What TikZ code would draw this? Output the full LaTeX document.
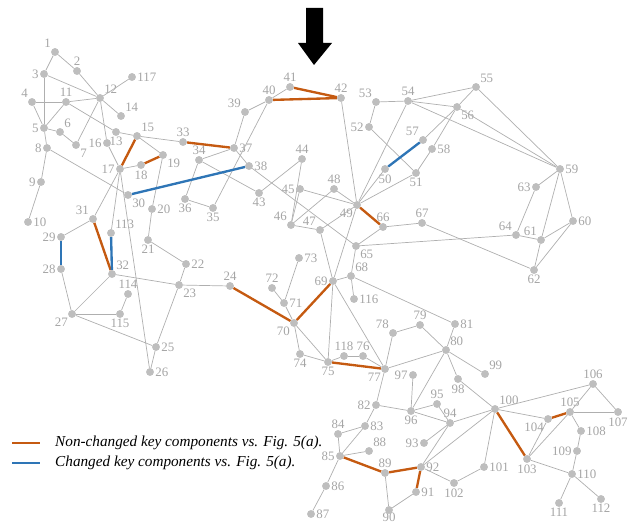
\documentclass[tikz,border=0pt]{standalone}
\usepackage{fontspec}
\setmainfont{Liberation Serif}
\definecolor{dotgray}{RGB}{190,190,190}
\definecolor{linegray}{RGB}{175,175,175}
\definecolor{txtgray}{RGB}{165,165,165}
\definecolor{keyorange}{RGB}{197,90,17}
\definecolor{keyblue}{RGB}{46,117,182}
\tikzset{%
  vtx/.style={circle, fill=dotgray, inner sep=0pt, minimum size=6.5pt},
  lbl/.style={text=txtgray, font=\fontsize{11}{11}\selectfont, inner sep=1pt, label distance=0pt},
  edge/.style={draw=linegray, line width=0.6pt},
  keep/.style={draw=keyorange, line width=2pt},
  swap/.style={draw=keyblue, line width=2pt},
  keytext/.style={anchor=west, font=\itshape\fontsize{13}{13}\selectfont, inner sep=0pt}
}
\begin{document}
\begin{tikzpicture}[x=0.3mm, y=-0.3mm]
  \useasboundingbox (0,0) rectangle (634,523);
  % vertices
  \foreach \n/\x/\y/\p in {
    1/55/52/above left, 2/77/71/above, 3/44/74/left, 117/132/77/right,
    12/100/98/above right, 4/32/102/above left, 11/66/102/above,
    14/121/116/above right, 5/44/128/left, 6/60/132/above right,
    13/116/132/below, 15/137/136/above right, 16/107/143/left,
    7/76/145/below right, 8/47/148/left, 19/163/155/below right,
    18/141/165/below, 17/120/169/left, 9/41/182/left, 10/28/222/right,
    30/128/195/below right, 20/152/209/right, 31/93/219/above left,
    29/61/237/left, 113/111/233/above right, 21/148/240/below,
    28/61/269/left, 32/112/274/above right, 114/128/294/above,
    27/72/314/below left, 115/120/314/below, 25/156/347/right,
    26/150/372/right, 41/290/87/above, 40/269/100/above,
    39/245/112/above left, 33/183/142/above, 37/234/148/right,
    34/199/160/above, 38/249/166/right, 44/302/159/above,
    36/185/199/below, 35/213/208/below, 43/259/193/below,
    45/300/189/left, 46/291/225/above left, 47/320/230/above left,
    22/186/264/right, 23/179/285/below right, 24/230/286/above,
    73/299/258/right, 72/272/288/above, 71/284/303/right,
    70/294/323/below left, 74/300/354/below, 69/333/281/left,
    42/341/98/above, 53/376/102/above left, 54/408/101/above,
    55/476/87/above right, 56/457/107/below right, 52/369/127/left,
    57/423/140/above left, 58/432/149/right, 50/385/169/below,
    51/416/173/below, 48/334/189/above, 49/357/205/below left,
    66/383/227/above, 67/422/223/above, 65/356/246/below right,
    68/351/276/above right, 116/354/299/right, 59/560/169/right,
    63/536/187/left, 60/573/221/right, 64/516/235/above left,
    61/541/240/above left, 62/534/270/below, 78/393/333/above left,
    79/420/325/above, 81/455/324/right, 80/446/350/above right,
    118/344/356/above, 76/363/356/above, 75/328/362/below,
    77/385/369/below left, 97/413/375/left, 99/485/374/above right,
    98/458/379/below, 95/437/404/above, 82/376/405/left,
    96/411/411/below, 94/450/423/above, 84/338/434/above,
    83/365/426/right, 93/424/443/left, 88/369/451/above right,
    85/340/456/left, 92/421/467/right, 89/385/473/above,
    102/454/483/below, 86/326/486/right, 91/416/492/right,
    87/311/514/right, 106/593/384/above,
    100/495/409/above right, 105/570/412/above, 107/618/412/below,
    104/548/419/below left, 108/581/431/right, 109/577/451/left,
    103/527/459/below, 101/484/467/right, 110/572/474/right,
    111/559/503/below, 112/601/499/below}
    \node[vtx, label={[lbl]\p:\n}] (n\n) at (\x,\y) {};
  \node[vtx, label={[lbl, label distance=-2pt]below:90}] (n90) at (389,510) {};
  % plain links
  \foreach \a/\b in {1/3, 1/2, 2/12, 3/12, 3/5, 4/11, 4/5, 11/12, 5/11,
    12/117, 12/14, 12/7, 12/16, 16/17, 5/6, 6/7, 5/8, 8/9, 9/10, 8/30,
    11/13, 13/15, 15/33, 15/19, 17/18, 17/31, 17/113, 17/26, 19/20,
    20/21, 21/22, 22/23, 23/24, 23/25, 32/23, 25/26, 25/27, 27/28,
    29/31, 27/32, 27/115, 114/115, 37/34, 34/36, 36/35, 35/40, 39/40,
    39/37, 40/41, 34/43, 37/38, 38/65, 44/43, 44/46, 45/46, 45/49,
    46/48, 46/47, 47/49, 48/49, 47/69, 42/49, 53/54, 52/53, 52/51,
    54/55, 54/56, 54/59, 55/56, 56/57, 56/58, 58/51, 55/59, 56/59,
    49/54, 49/50, 49/51, 66/67, 65/66, 65/64, 67/62, 65/68, 68/69,
    68/116, 68/81, 49/69, 69/75, 69/77, 70/71, 71/72, 71/73, 70/74,
    70/75, 74/75, 75/118, 118/76, 76/77, 77/78, 78/79, 79/80, 80/81,
    77/80, 77/82, 59/63, 59/61, 59/60, 63/64, 64/61, 61/60, 61/62,
    62/60, 80/99, 80/98, 80/96, 96/97, 82/96, 96/95, 95/94, 96/94,
    82/83, 83/84, 83/85, 84/85, 85/88, 85/86, 86/87, 89/90, 90/91,
    93/94, 92/94, 92/102, 92/100, 94/100, 98/100, 100/106, 100/104,
    100/101, 101/102, 104/103, 105/103, 105/106, 105/107, 106/107,
    105/108, 108/109, 109/110, 103/110, 110/111, 110/112}
    \draw[edge] (n\a) -- (n\b);
  % key components
  \foreach \a/\b in {15/17, 18/19, 31/32, 33/37, 40/42, 41/42, 49/66,
    24/70, 70/69, 75/77, 85/89, 89/92, 92/91, 100/103, 104/105}
    \draw[keep] (n\a) -- (n\b);
  \foreach \a/\b in {28/29, 113/32, 30/38, 50/57}
    \draw[swap] (n\a) -- (n\b);
  % redraw dots on top
  \foreach \n in {1,...,118}
    \fill[dotgray] (n\n) circle (3.2pt);
  % arrow
  \fill[black] (306,8) -- (323,8) -- (323,43) -- (332,43) -- (314,65)
    -- (298,43) -- (306,43) -- cycle;
  % legend
  \coordinate (ka) at (12,443); \coordinate (kb) at (40,443);
  \coordinate (kc) at (12,463); \coordinate (kd) at (40,463);
  \draw[keep] (ka) -- (kb);
  \draw[swap] (kc) -- (kd);
  \node[keytext] (kt1) at (55,443) {Non-changed key components vs. Fig. 5(a).};
  \node[keytext] (kt2) at (55,463) {Changed key components vs. Fig. 5(a).};
\end{tikzpicture}
\end{document}
